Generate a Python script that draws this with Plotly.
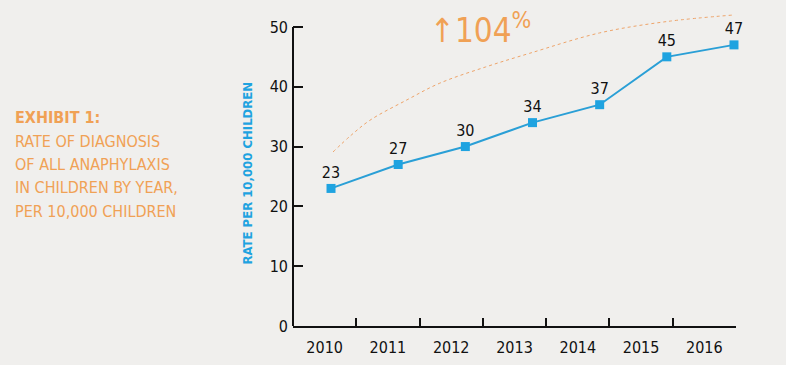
import plotly.graph_objects as go

years = [2010, 2011, 2012, 2013, 2014, 2015, 2016]
year_labels = ["2010", "2011", "2012", "2013", "2014", "2015", "2016"]
rates = [23, 27, 30, 34, 37, 45, 47]
rate_labels = ["23", "27", "30", "34", "37", "45", "47"]

# decorative trend curve (year, rate)
curve_x = [2010.03, 2010.3, 2010.58, 2011.13, 2011.62, 2012.3, 2012.96, 2014.0, 2015.0, 2016.0]
curve_y = [29.1, 31.9, 34.4, 37.8, 40.6, 43.3, 45.6, 49.0, 50.9, 52.0]

y_ticks = [0, 10, 20, 30, 40, 50]
side_title = ["EXHIBIT 1:", "RATE OF DIAGNOSIS", "OF ALL ANAPHYLAXIS",
              "IN CHILDREN BY YEAR,", "PER 10,000 CHILDREN"]

FONT = "DejaVu Sans Condensed, Liberation Sans Narrow, sans-serif"
ORANGE = "#f0a155"
BLUE = "#1fa3e0"
BG = "#f0efed"

fig = go.Figure()

fig.add_trace(go.Scatter(
    x=curve_x, y=curve_y, xaxis="x2", yaxis="y", mode="lines",
    line=dict(color="#eea46a", width=1, dash="dot", shape="spline"),
    hoverinfo="skip", showlegend=False))

fig.add_trace(go.Scatter(
    x=years, y=rates, xaxis="x2", yaxis="y", mode="lines+markers+text",
    line=dict(color="#2a9fd6", width=2),
    marker=dict(symbol="square", size=9, color=BLUE),
    text=rate_labels, textposition="top center",
    textfont=dict(family=FONT, size=16, color="#111"),
    cliponaxis=False, showlegend=False))

fig.update_layout(
    width=786, height=365,
    margin=dict(l=293, r=50, t=3, b=39),
    paper_bgcolor=BG, plot_bgcolor=BG,
    font=dict(family=FONT, color="#111"),
    xaxis=dict(type="category", categoryorder="array", categoryarray=year_labels,
               tickmode="array", tickvals=year_labels, ticktext=year_labels,
               range=[-0.5, 6.5], tickson="boundaries", ticks="inside",
               ticklen=8, tickwidth=2, tickcolor="#111",
               showline=True, linecolor="#111", linewidth=2,
               showgrid=False, zeroline=False,
               tickfont=dict(family=FONT, size=16, color="#111"),
               ticklabelstandoff=6, fixedrange=True),
    xaxis2=dict(type="linear", overlaying="x", range=[2009.434, 2016.03],
                visible=False, fixedrange=True),
    yaxis=dict(range=[0, 54], tickvals=y_ticks, ticks="inside", ticklen=10,
               tickwidth=2, tickcolor="#111", showline=False, showgrid=False,
               zeroline=False, tickfont=dict(family=FONT, size=16, color="#111"),
               ticklabelstandoff=4, fixedrange=True),
    showlegend=False,
)

# category trace for the label axis
fig.add_trace(go.Scatter(x=year_labels, y=rates, xaxis="x", yaxis="y",
                         mode="markers", marker=dict(opacity=0),
                         showlegend=False, hoverinfo="skip"))

# y axis line from 0 to 50
fig.add_shape(type="line", xref="paper", yref="y", x0=0, x1=0, y0=0, y1=y_ticks[-1],
              line=dict(color="#111", width=2))

# y axis title
fig.add_annotation(xref="paper", yref="paper", x=(247 - 293) / 443, y=(326 - 173.5) / 323,
                   xanchor="center", yanchor="middle",
                   text="<b>RATE PER 10,000 CHILDREN</b>", textangle=-90,
                   showarrow=False, font=dict(family=FONT, size=13, color=BLUE))

# big percent label
fig.add_annotation(xref="paper", yref="paper", x=(480 - 293) / 443, y=(326 - 28) / 323,
                   xanchor="center", yanchor="middle",
                   text="↑104<sup>%</sup>",
                   showarrow=False, font=dict(family=FONT, size=33, color=ORANGE))

# side title lines
top_px = 117.5
for i, line in enumerate(side_title):
    py = top_px + i * 23.5
    txt = f"<b>{line}</b>" if i == 0 else line
    fig.add_annotation(xref="paper", yref="paper", x=(13 - 293) / 443,
                       y=(326 - py) / 323, xanchor="left", yanchor="middle",
                       text=txt, showarrow=False, align="left",
                       font=dict(family=FONT, size=16, color=ORANGE))

fig.write_html("out.html", config={"displayModeBar": False, "staticPlot": True},
               post_script="document.body.style.margin='0';document.body.style.overflow='hidden';")
